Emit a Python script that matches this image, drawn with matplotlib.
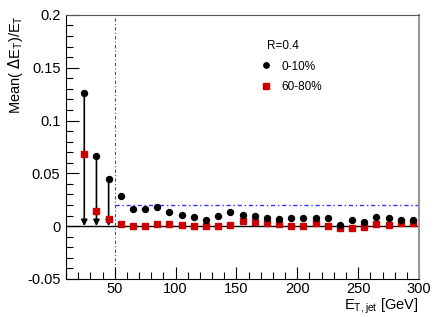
import numpy as np
import matplotlib
matplotlib.use("Agg")
import matplotlib.pyplot as plt
from matplotlib.ticker import MultipleLocator

plt.rcParams['font.family'] = ['Liberation Sans', 'DejaVu Sans']

# bin centres (GeV)
et = [25, 35, 45, 55, 65, 75, 85, 95, 105, 115, 125, 135, 145, 155, 165, 175,
      185, 195, 205, 215, 225, 235, 245, 255, 265, 275, 285, 295]
# 0-10% centrality
cent = [0.1257, 0.066, 0.0442, 0.029, 0.0167, 0.0164, 0.018, 0.0136, 0.0104, 0.0085,
        0.0057, 0.0095, 0.013, 0.0104, 0.0098, 0.0079, 0.0069, 0.0076, 0.0079, 0.0076,
        0.0073, 0.001, 0.006, 0.0041, 0.0082, 0.0073, 0.006, 0.0054]
# 60-80% centrality
periph = [0.068, 0.0145, 0.007, 0.0016, 0.0, 0.0003, 0.002, 0.0025, 0.0012, 0.0006,
          0.0003, -0.0003, 0.0013, 0.0047, 0.0041, 0.0028, 0.0022, 0.0006, 0.0006, 0.0028,
          -0.0003, -0.0016, -0.0022, -0.0006, 0.0019, 0.0013, 0.0031, 0.0028]
# points shown as upper limits (arrows)
n_lim = 3

fig = plt.figure(figsize=(4.41, 3.17), dpi=100)
ax = fig.add_axes([0.1497, 0.12, 0.8005, 0.833])

ax.set_xlim(10, 300)
ax.set_ylim(-0.05, 0.2)

ax.axhline(0, color='black', lw=1.0, zorder=1)
ax.plot([50, 300], [0.02, 0.02], color='#3333ff', lw=1.0, ls=(0, (3, 2, 1, 2)), zorder=1)
ax.axvline(50, color='#555555', lw=0.8, ls=(0, (3, 2, 1, 2)), zorder=1)

# arrows for the low-pt points
for i in range(n_lim):
    ax.annotate('', xy=(et[i], 0.0), xytext=(et[i], cent[i]),
                arrowprops=dict(arrowstyle='-|>', color='black', lw=1.2,
                                mutation_scale=9, shrinkA=0, shrinkB=0), zorder=2)

ax.plot(et, cent, 'o', color='black', ms=4.3, zorder=4, label='0-10%')
ax.plot(et, periph, 's', color='#cc0000', ms=4.3, mec='#cc0000', zorder=3, label='60-80%')

ax.xaxis.set_major_locator(MultipleLocator(50))
ax.xaxis.set_minor_locator(MultipleLocator(10))
ax.yaxis.set_major_locator(MultipleLocator(0.05))
ax.yaxis.set_minor_locator(MultipleLocator(0.01))
ax.tick_params(which='both', direction='in', labelsize=10.5, top=False, right=False)
ax.tick_params(which='major', length=9, width=0.8)
ax.tick_params(which='minor', length=5, width=0.8)
ax.tick_params(axis='y', which='major', pad=4)
ax.tick_params(axis='x', which='major', pad=2)
ax.yaxis.set_major_formatter(matplotlib.ticker.FuncFormatter(lambda v, p: '0' if abs(v) < 1e-9 else ('%g' % v)))

ax.spines['top'].set_color('#555555')
ax.spines['right'].set_color('#999999')
ax.spines['right'].set_linewidth(1.5)

fig.text(419 / 441, 1 - 309 / 317, r'E$_{\mathregular{T,jet}}$ [GeV]', fontsize=10.5,
         ha='right', va='baseline')
fig.text(16 / 441, 1 - 15 / 317, r'Mean( $\Delta$E$_{\mathregular{T}}$)/E$_{\mathregular{T}}$',
         fontsize=10.5, rotation=90, ha='center', va='top')

ax.text(175, 0.168, 'R=0.4', fontsize=8.5)
ax.legend(loc='upper left', bbox_to_anchor=(0.537, 0.845), frameon=False, fontsize=8.5,
          handlelength=1.0, handletextpad=0.8, labelspacing=0.7, markerscale=0.9,
          borderaxespad=0)

fig.savefig('out.png', dpi=100)
